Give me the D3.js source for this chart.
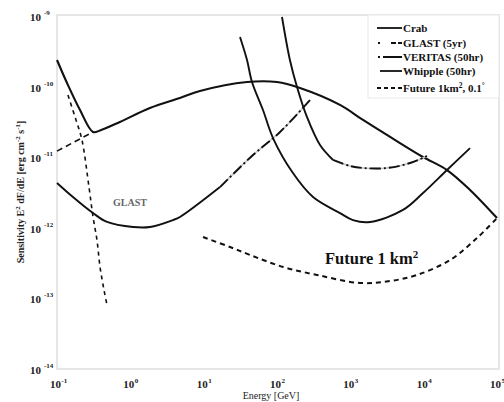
<!DOCTYPE html>
<html><head><meta charset="utf-8">
<script src="https://cdn.jsdelivr.net/npm/d3@7/dist/d3.min.js"></script>
<style>
html,body{margin:0;padding:0;background:#fff;}
svg{display:block;font-family:"Liberation Serif","Times New Roman",serif;}
</style></head>
<body>
<svg id="chart" width="504" height="402"></svg>
<script>
// ---- data ----
const xTickValues = [0.1, 1, 10, 100, 1000, 1e4, 1e5];
const xTickExps = ["-1", "0", "1", "2", "3", "4", "5"];
const yTickValues = [1e-9, 1e-10, 1e-11, 1e-12, 1e-13, 1e-14];
const yTickExps = ["-9", "-10", "-11", "-12", "-13", "-14"];

const crabE = [0.1, 0.137, 0.206, 0.31, 0.386, 0.72, 1.85, 4.75, 8.9, 39, 100, 206, 723, 1490, 4750, 9800, 20800, 42900, 1e5];
const crabS = [2.46e-10, 1.16e-10, 4.8e-11, 2.35e-11, 2.47e-11, 3.26e-11, 5.14e-11, 7.13e-11, 8.95e-11, 1.2e-10, 1.2e-10, 9.86e-11, 5.68e-11, 3.48e-11, 1.64e-11, 1.04e-11, 6.8e-12, 3.55e-12, 1.42e-12];

const crabSyncE = [0.141, 0.1815, 0.219, 0.273, 0.31, 0.351, 0.386, 0.4375, 0.481];
const crabSyncS = [7.85e-11, 3.48e-11, 1.81e-11, 3.9e-12, 1.47e-12, 6.9e-13, 2.88e-13, 1.36e-13, 8.3e-14];

const crabICE = [0.1, 0.31];
const crabICS = [1.26e-11, 2.35e-11];

const glastE = [0.1, 0.165, 0.31, 0.481, 1.09, 1.85, 3.82, 4.75, 16.7, 47.1, 110, 282];
const glastS = [4.46e-12, 2.82e-12, 1.67e-12, 1.25e-12, 1.06e-12, 1.06e-12, 1.33e-12, 1.47e-12, 3.9e-12, 1.11e-11, 2.35e-11, 6.67e-11];
const glastDashFrom = 16.7;

const veritasE = [31.3, 39, 45.6, 64.4, 88.2, 165, 310, 723, 1087, 1853, 5224, 9800, 20800, 42900];
const veritasS = [5.21e-10, 2.46e-10, 1.2e-10, 4.82e-11, 1.93e-11, 6.16e-12, 2.82e-12, 1.67e-12, 1.33e-12, 1.25e-12, 1.85e-12, 3.21e-12, 6.8e-12, 1.39e-11];

const whippleE = [117, 150, 187.5, 256, 386, 581, 991, 1490, 3162, 6520, 11100];
const whippleS = [1e-9, 2.46e-10, 1.02e-10, 3.84e-11, 1.54e-11, 9.44e-12, 7.76e-12, 7.26e-12, 7.26e-12, 8.55e-12, 1.07e-11];
const whippleDashFrom = 581;

const futureE = [9.8, 22.9, 42.9, 121, 351, 1355, 3475, 8110, 22900, 53400, 1e5];
const futureS = [7.65e-13, 5.52e-13, 4.26e-13, 2.88e-13, 2.22e-13, 1.71e-13, 1.82e-13, 2.22e-13, 3.61e-13, 7.41e-13, 1.42e-12];

const legendLabels = ["Crab", "GLAST (5yr)", "VERITAS (50hr)", "Whipple (50hr)", "Future 1km\u00B2, 0.1\u00B0"];

// ---- drawing ----
const svg = d3.select("#chart");
const x = d3.scaleLog().domain([0.1, 1e5]).range([57, 497]);
const y = d3.scaleLog().domain([1e-14, 1e-9]).range([370, 17]);

// faint frame
svg.append("rect").attr("x", 57).attr("y", 15).attr("width", 442).attr("height", 354)
  .attr("fill", "none").attr("stroke", "#e6e6e6").attr("stroke-width", 2);

const zip = (a, b) => a.map((v, i) => [v, b[i]]);
const line = d3.line().x(d => x(d[0])).y(d => y(d[1])).curve(d3.curveCatmullRom.alpha(0.5));

function drawPath(pts, width, dash, color) {
  const p = svg.append("path").attr("d", line(pts)).attr("fill", "none")
    .attr("stroke", color || "#111").attr("stroke-width", width)
    .attr("stroke-linecap", "butt").attr("stroke-linejoin", "round");
  if (dash) p.attr("stroke-dasharray", dash);
  return p;
}

// Crab components
drawPath(zip(crabSyncE, crabSyncS), 1.6, "4,4");
drawPath(zip(crabICE, crabICS), 1.6, "6,4");
// Crab
drawPath(zip(crabE, crabS), 2.1);

// GLAST
const glast = zip(glastE, glastS);
drawPath(glast.filter(d => d[0] <= glastDashFrom), 1.9);
drawPath(glast.filter(d => d[0] >= glastDashFrom), 1.7, null, "#c8c8c8");
drawPath(glast.filter(d => d[0] >= glastDashFrom), 1.9, "11,3,2,3");

// VERITAS
drawPath(zip(veritasE, veritasS), 1.9);

// Whipple
const whip = zip(whippleE, whippleS);
drawPath(whip.filter(d => d[0] <= whippleDashFrom), 1.9);
drawPath(whip.filter(d => d[0] >= whippleDashFrom), 1.7, null, "#c8c8c8");
drawPath(whip.filter(d => d[0] >= whippleDashFrom), 1.9, "11,3,2,3");

// Future
drawPath(zip(futureE, futureS), 2, "5,4");

// ---- axes labels ----
const xl = svg.append("g").attr("font-weight", "bold").attr("font-size", 11).attr("fill", "#222");
xTickValues.forEach((v, i) => {
  const t = xl.append("text").attr("x", x(v) - 7).attr("y", 388);
  t.append("tspan").text("10");
  t.append("tspan").attr("font-size", 7).attr("dy", -5).attr("dx", 0.5).text(xTickExps[i]);
});
const yl = svg.append("g").attr("font-weight", "bold").attr("font-size", 11).attr("fill", "#222");
yTickValues.forEach((v, i) => {
  const t = yl.append("text").attr("x", 30).attr("y", y(v) + 4);
  t.append("tspan").text("10");
  t.append("tspan").attr("font-size", 7).attr("dy", -6).attr("dx", 3).text(yTickExps[i]);
});

svg.append("text").attr("x", 271).attr("y", 399).attr("text-anchor", "middle")
  .attr("font-size", 10).attr("fill", "#222").text("Energy [GeV]");

const yt = svg.append("text").attr("transform", "translate(24,192) rotate(-90)")
  .attr("text-anchor", "middle").attr("font-size", 10).attr("font-weight", "bold").attr("fill", "#222");
yt.append("tspan").text("Sensitivity E");
yt.append("tspan").attr("font-size", 7).attr("dy", -4).text("2");
yt.append("tspan").attr("dy", 4).text(" dF/dE [erg cm");
yt.append("tspan").attr("font-size", 7).attr("dy", -4).text("-2");
yt.append("tspan").attr("dy", 4).text(" s");
yt.append("tspan").attr("font-size", 7).attr("dy", -4).text("-1");
yt.append("tspan").attr("dy", 4).text("]");

// annotations
svg.append("text").attr("x", 113).attr("y", 206).attr("font-size", 10).attr("font-weight", "bold")
  .attr("fill", "#666").text("GLAST");
const fut = svg.append("text").attr("x", 325).attr("y", 264).attr("font-size", 16.5)
  .attr("font-weight", "bold").attr("fill", "#111");
fut.append("tspan").text("Future 1 km");
fut.append("tspan").attr("font-size", 11).attr("dy", -6).text("2");

// ---- legend ----
const lg = svg.append("g");
lg.append("rect").attr("x", 368).attr("y", 15).attr("width", 131).attr("height", 83)
  .attr("fill", "#fff").attr("stroke", "#e8e8e8").attr("stroke-width", 1);
const rowsY = [28, 43, 57, 71, 88];
const legendDash = [null, "2,11,5,2,5", "2,3,20", null, "4,3"];
const legendX0 = [377, 378, 378, 380, 377];
legendLabels.forEach((lab, i) => {
  const l = lg.append("line").attr("x1", legendX0[i]).attr("x2", 402).attr("y1", rowsY[i]).attr("y2", rowsY[i])
    .attr("stroke", "#111").attr("stroke-width", 1.8);
  if (legendDash[i]) l.attr("stroke-dasharray", legendDash[i]);
  const t = lg.append("text").attr("x", 403).attr("y", rowsY[i] + 4).attr("font-size", 11)
    .attr("font-weight", "bold").attr("fill", "#111");
  if (i === 4) {
    t.append("tspan").text("Future 1km");
    t.append("tspan").attr("font-size", 7.5).attr("dy", -4).text("2");
    t.append("tspan").attr("dy", 4).text(", 0.1");
    t.append("tspan").attr("font-size", 7.5).attr("dy", -4).text("\u00B0");
  } else {
    t.text(lab);
  }
});
</script>
</body></html>
